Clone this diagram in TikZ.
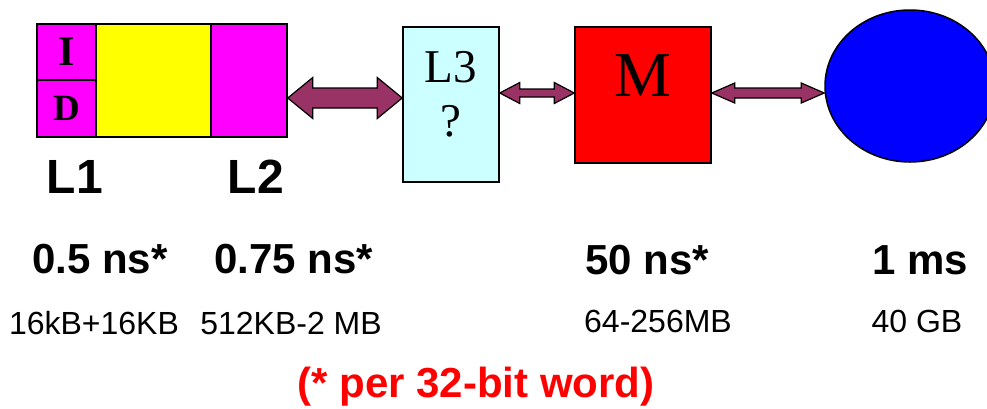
\documentclass[tikz,border=0pt]{standalone}
\usepackage{fontspec}
\setmainfont{Liberation Serif}
\setsansfont{Liberation Sans}
\usetikzlibrary{calc, shapes.geometric}

\definecolor{busred}{RGB}{153,51,102}
\definecolor{lthree}{RGB}{204,255,255}
\definecolor{cachemag}{RGB}{255,0,255}
\definecolor{cacheyel}{RGB}{255,255,0}
\definecolor{memred}{RGB}{255,0,0}
\definecolor{diskblue}{RGB}{0,0,255}

% fat double arrow between two nodes: from, to, y level, head half width, head length, shaft half width
\newcommand{\busarrow}[6]{%
  \filldraw[bus] let \p1=(#1), \p2=(#2), \p3=(0,#3) in
    (\x1,\y3) -- (\x1+#5pt,\y3+#4pt) -- (\x1+#5pt,\y3+#6pt) -- (\x2-#5pt,\y3+#6pt)
    -- (\x2-#5pt,\y3+#4pt) -- (\x2,\y3) -- (\x2-#5pt,\y3-#4pt) -- (\x2-#5pt,\y3-#6pt)
    -- (\x1+#5pt,\y3-#6pt) -- (\x1+#5pt,\y3-#4pt) -- cycle;
}

\begin{document}
\begin{tikzpicture}[x=1pt, y=-1pt,
    box/.style={draw=black, line width=1.5pt, inner sep=0pt},
    bus/.style={draw=black, fill=busred, line width=1.2pt, line join=miter},
    serifbig/.style={font=\fontsize{47}{47}\selectfont, inner sep=0pt},
    cachelbl/.style={font=\sffamily\bfseries\fontsize{48}{48}\selectfont, inner sep=0pt},
    timelbl/.style={font=\sffamily\bfseries\fontsize{42}{42}\selectfont, inner sep=0pt},
    sizelbl/.style={font=\sffamily\fontsize{32}{32}\selectfont, inner sep=0pt}]
    \clip (0,0) rectangle (987,408);

    % L1 (I/D) and L2
    \node[box, fill=cachemag, minimum width=59pt, minimum height=56pt,
          font=\bfseries\fontsize{42}{42}\selectfont] (icache) at (66.5,52) {I};
    \node[box, fill=cachemag, minimum width=59pt, minimum height=57pt,
          font=\bfseries\fontsize{37}{37}\selectfont] (dcache) at (66.5,108.5) {D};
    \node[box, fill=cacheyel, minimum width=115pt, minimum height=113pt] (l1) at (153.5,80.5) {};
    \node[box, fill=cachemag, minimum width=76pt, minimum height=113pt] (l2) at (249,80.5) {};

    % L3, memory, disk
    \node[box, fill=lthree, minimum width=96pt, minimum height=155pt] (l3) at (451,104.5) {};
    \node[serifbig] (l3name) at (451,67) {L3};
    \node[serifbig] (l3ask) at (451,121) {?};
    \node[box, fill=memred, minimum width=136pt, minimum height=136pt] (mem) at (643,95) {};
    \node[serifbig, font=\fontsize{64}{64}\selectfont] (memname) at (643,76) {M};
    \node[ellipse, draw=black, line width=1.5pt, fill=diskblue, inner sep=0pt,
          minimum width=170pt, minimum height=152pt] (disk) at (910,86) {};

    \busarrow{l2.east}{l3.west}{98}{20.5}{25}{10}
    \busarrow{l3.east}{mem.west}{93}{10.5}{20}{4}
    \busarrow{mem.east}{disk.west}{93}{10}{23}{5}

    % labels
    \node[cachelbl] (l1name) at (75,176.5) {L1};
    \node[cachelbl] (l2name) at (256,176.5) {L2};

    \node[timelbl] (l1time) at (100,259) {0.5 ns*};
    \node[timelbl] (l2time) at (294,259) {0.75 ns*};
    \node[timelbl] (memtime) at (647,260) {50 ns*};
    \node[timelbl] (disktime) at (920,260) {1 ms};

    \node[sizelbl] (l1size) at (94,323.5) {16kB+16KB};
    \node[sizelbl] (l2size) at (291,323.5) {512KB-2 MB};
    \node[sizelbl] (memsize) at (658,321.5) {64-256MB};
    \node[sizelbl] (disksize) at (917,321.5) {40 GB};

    \node[timelbl, text=memred] (note) at (476,387) {(* per 32-bit word)};
\end{tikzpicture}
\end{document}
